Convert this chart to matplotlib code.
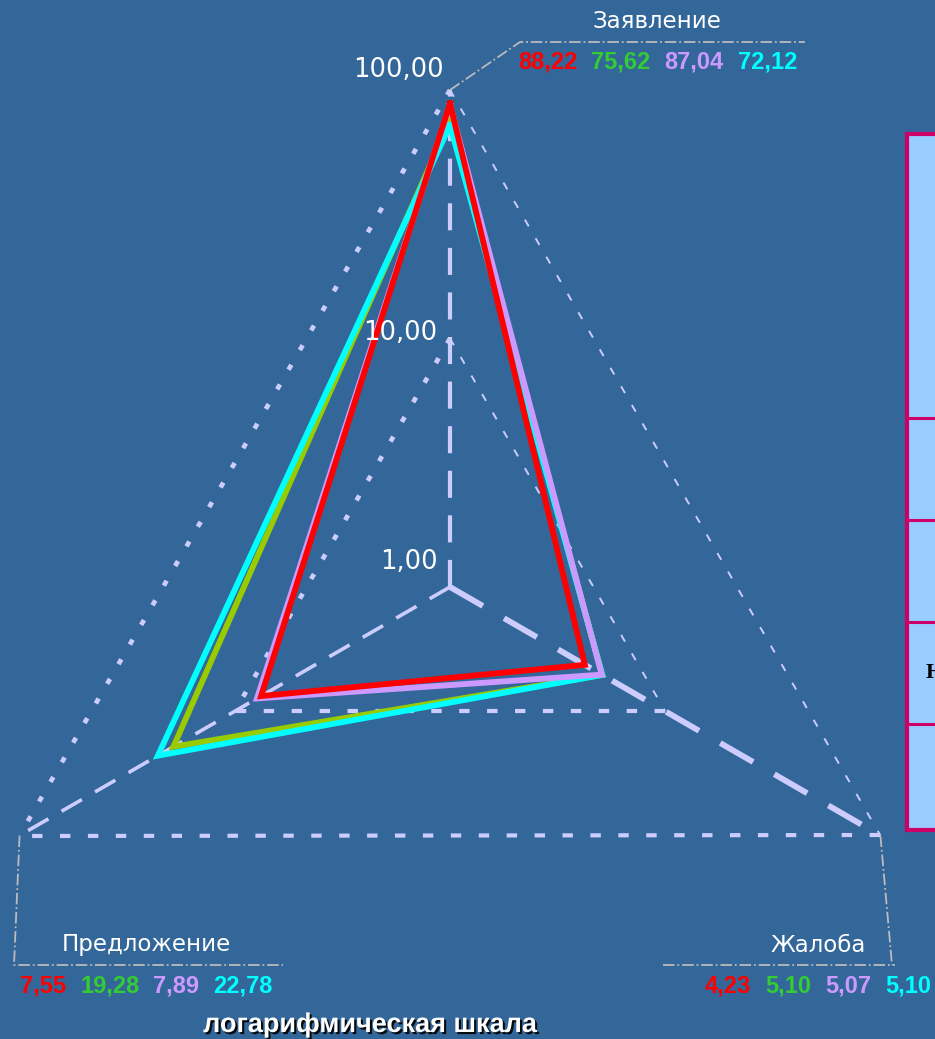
import numpy as np
import matplotlib.pyplot as plt
import matplotlib.patheffects as pe
from matplotlib.patches import Rectangle

# data
categories = ['Заявление', 'Жалоба', 'Предложение']
red_vals = [88.22, 4.23, 7.55]
green_vals = [75.62, 5.10, 19.28]
lavender_vals = [87.04, 5.07, 7.89]
cyan_vals = [72.12, 5.10, 22.78]
tick_values = [1, 10, 100]
tick_labels = ['1,00', '10,00', '100,00']

BG = '#336699'
GRID = '#CCCCFF'
LEADER = '#BBBBBB'

W, H = 935, 1039
fig = plt.figure(figsize=(W / 100, H / 100), dpi=100, facecolor=BG)

# radar axes: center and radius in pixels
cx, cy, R = 450, 587, 497
ax = fig.add_axes([(cx - R) / W, (H - cy - R) / H, 2 * R / W, 2 * R / H],
                  projection='polar')
ax.set_theta_zero_location('N')
ax.set_theta_direction(-1)
ax.set_rscale('log')
ax.set_rlim(1, 100)
ax.axis('off')

theta = np.deg2rad([0, 120, 240])
rmax = tick_values[-1]

# triangular grid (Excel-like mixed styles)
for lvl in tick_values[1:]:
    ax.plot([theta[0], theta[2]], [lvl, lvl], color=GRID, lw=3.4,
            dashes=(1.2, 3.6), clip_on=False, zorder=1)
    ax.plot([theta[0], theta[1]], [lvl, lvl], color=GRID, lw=1.4,
            dashes=(4, 7), clip_on=False, zorder=1)
    ax.plot([theta[1], theta[2]], [lvl, lvl], color=GRID, lw=3.0,
            dashes=(2.5, 4.2), clip_on=False, zorder=1)

# spokes
spoke_w = [3.0, 4.2, 2.6]
for t, w in zip(theta, spoke_w):
    ax.plot([t, t], [1, rmax], color=GRID, lw=w, dashes=(6.5, 4.2),
            clip_on=False, zorder=1)

# series
tt = np.append(theta, theta[0])
for vals, col, z in [(green_vals, '#99CC00', 3), (cyan_vals, '#00FFFF', 4),
                     (lavender_vals, '#CC99FF', 5), (red_vals, '#FF0000', 6)]:
    ax.plot(tt, vals + vals[:1], color=col, lw=4.2, solid_joinstyle='miter',
            clip_on=False, zorder=z)

# overlay axes in pixel coordinates for labels and annotations
oax = fig.add_axes([0, 0, 1, 1])
oax.set_xlim(0, W)
oax.set_ylim(H, 0)
oax.axis('off')
oax.patch.set_alpha(0)


def to_px(t, r):
    disp = ax.transData.transform((t, r))
    return oax.transData.inverted().transform(disp)


# radial tick labels
tick_off = [(-12, -25), (-13, -5), (-6, -20)]
for v, lab, (dx, dy) in zip(tick_values, tick_labels, tick_off):
    x, y = to_px(0, v)
    oax.text(x + dx, y + dy, lab, ha='right', va='center', color='white',
             fontsize=18.5, family='DejaVu Sans', zorder=10)

# category leaders and labels
top = to_px(theta[0], rmax)
right = to_px(theta[1], rmax)
left = to_px(theta[2], rmax)
lstyle = dict(color=LEADER, lw=1.3, ls='-.', zorder=2)
oax.plot([top[0], 520, 805], [top[1], 42, 42], **lstyle)
oax.plot([left[0], 14, 283], [left[1], 965, 965], **lstyle)
oax.plot([right[0], 892], [right[1], 965], **lstyle)
oax.plot([663, 895], [965, 965], **lstyle)

cat_pos = [(657, 22), (818, 945), (146, 945)]
val_start = [(518, 62), (705, 986), (20, 986)]
series = [red_vals, green_vals, lavender_vals, cyan_vals]
text_cols = ['#FF0000', '#33CC33', '#CC99FF', '#00FFFF']

fig.canvas.draw()
renderer = fig.canvas.get_renderer()
for i, cat in enumerate(categories):
    oax.text(*cat_pos[i], cat, ha='center', va='center', color='white',
             fontsize=16.5, family='DejaVu Sans')
    x, y = val_start[i]
    for vals, col in zip(series, text_cols):
        s = f'{vals[i]:.2f}'.replace('.', ',')
        t = oax.text(x, y, s, ha='left', va='center', color=col,
                     fontsize=17, fontweight='bold', family='Liberation Sans')
        bb = t.get_window_extent(renderer)
        x = oax.transData.inverted().transform((bb.x1, 0))[0] + 14

# partially visible legend box on the right
oax.add_patch(Rectangle((907, 134), 60, 696, facecolor='#99CCFF',
                        edgecolor='#CC0066', lw=3, clip_on=False))
for yy in [418, 520, 622, 724]:
    oax.plot([907, 960], [yy, yy], color='#CC0066', lw=2.2, clip_on=False)
oax.text(926, 673, 'Н', ha='left', va='center', color='black', fontsize=16,
         fontweight='bold', family='Liberation Serif')

oax.text(370, 1025, 'логарифмическая шкала', ha='center', va='center',
         color='white', fontsize=19.5, fontweight='bold', family='Liberation Sans',
         path_effects=[pe.withSimplePatchShadow(offset=(1.5, -1.5),
                                                shadow_rgbFace='black', alpha=0.9)])

fig.savefig('out.png', dpi=100, facecolor=BG)
